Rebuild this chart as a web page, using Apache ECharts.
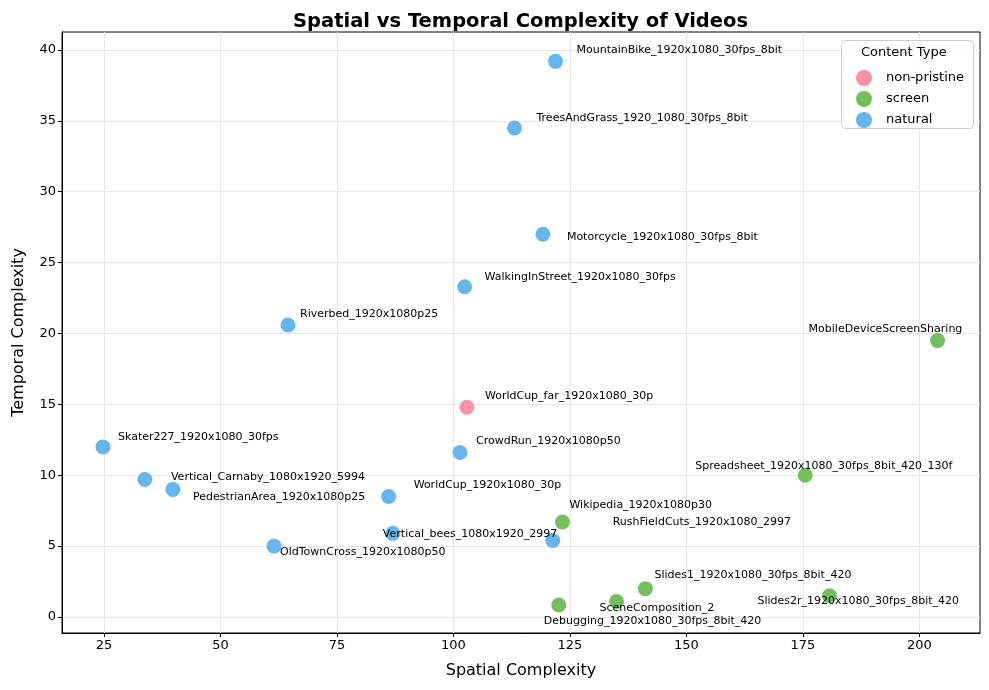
<!DOCTYPE html>
<html>
<head>
<meta charset="utf-8">
<script src="https://cdn.jsdelivr.net/npm/echarts@6/dist/echarts.min.js"></script>
<style>
  html, body { margin: 0; padding: 0; background: #fff; }
  #main { width: 989px; height: 690px; }
</style>
</head>
<body>
<div id="main"></div>
<script>
// video names, spatial / temporal complexity, content type
var names = [
  'MountainBike_1920x1080_30fps_8bit', 'TreesAndGrass_1920_1080_30fps_8bit',
  'Motorcycle_1920x1080_30fps_8bit', 'WalkingInStreet_1920x1080_30fps',
  'Riverbed_1920x1080p25', 'WorldCup_far_1920x1080_30p',
  'MobileDeviceScreenSharing', 'Skater227_1920x1080_30fps',
  'CrowdRun_1920x1080p50', 'Vertical_Carnaby_1080x1920_5994',
  'PedestrianArea_1920x1080p25', 'WorldCup_1920x1080_30p',
  'Spreadsheet_1920x1080_30fps_8bit_420_130f', 'Wikipedia_1920x1080p30',
  'Vertical_bees_1080x1920_2997', 'RushFieldCuts_1920x1080_2997',
  'OldTownCross_1920x1080p50', 'Slides1_1920x1080_30fps_8bit_420',
  'Slides2r_1920x1080_30fps_8bit_420', 'SceneComposition_2',
  'Debugging_1920x1080_30fps_8bit_420'
];
var spatial = [121.9, 113.1, 119.2, 102.4, 64.5, 102.9, 203.9, 24.8, 101.4, 33.8,
  39.8, 86.1, 175.5, 123.4, 87.0, 121.3, 61.5, 141.2, 180.7, 135.0, 122.6];
var temporal = [39.2, 34.5, 27.0, 23.3, 20.6, 14.8, 19.5, 12.0, 11.6, 9.7,
  9.0, 8.5, 10.0, 6.7, 5.9, 5.4, 5.0, 2.0, 1.5, 1.1, 0.85];
var types = ['natural', 'natural', 'natural', 'natural', 'natural', 'non-pristine',
  'screen', 'natural', 'natural', 'natural', 'natural', 'natural', 'screen', 'screen',
  'natural', 'natural', 'natural', 'screen', 'screen', 'screen', 'screen'];
var typeOrder = ['non-pristine', 'screen', 'natural'];
var xTicks = [25, 50, 75, 100, 125, 150, 175, 200];
var yTicks = [0, 5, 10, 15, 20, 25, 30, 35, 40];

// label placement (pixel offsets from point centre)
var labelOffsets = [
  [21, -11], [22, -10], [24, 3], [20, -10], [12, -11], [18, -11],
  [-129, -11], [15, -10], [16, -11], [26, -2], [20, 8], [25, -11],
  [-110, -9], [7, -17], [-10, 1], [60, -18], [6, 6], [9, -13],
  [-72, 5], [-17, 7], [-15, 16]
];
var colors = { 'non-pristine': '#f891a2', 'screen': '#74bf5c', 'natural': '#66b5ef' };

var chart = echarts.init(document.getElementById('main'));

var series = typeOrder.map(function (t) {
  var data = [];
  for (var i = 0; i < names.length; i++) {
    if (types[i] !== t) continue;
    data.push({
      value: [spatial[i], temporal[i], names[i]],
      label: { offset: labelOffsets[i] }
    });
  }
  return {
    name: t,
    type: 'scatter',
    symbolSize: 15,
    itemStyle: { color: colors[t], opacity: 1 },
    label: {
      show: true,
      position: 'inside',
      align: 'left',
      verticalAlign: 'middle',
      fontFamily: 'DejaVu Sans',
      fontSize: 11,
      color: '#000',
      textBorderWidth: 0,
      formatter: function (p) { return p.value[2]; }
    },
    emphasis: { disabled: true },
    data: data
  };
});

var font = 'DejaVu Sans';
var option = {
  animation: false,
  textStyle: { fontFamily: font },
  title: {
    text: 'Spatial vs Temporal Complexity of Videos',
    left: 288,
    top: 7,
    textStyle: { fontFamily: font, fontSize: 19.5, fontWeight: 'bold', color: '#000' }
  },
  grid: {
    left: 62, right: 9, top: 32, bottom: 57,
    show: true, borderColor: '#000', borderWidth: 1, backgroundColor: 'transparent'
  },
  graphic: [
    {
      type: 'rect', left: 841, top: 40, z: 3,
      shape: { width: 132, height: 88, r: 4 },
      style: { fill: 'rgba(255,255,255,0.85)', stroke: '#cccccc', lineWidth: 1 }
    },
    {
      type: 'text', left: 861, top: 46, z: 4,
      style: { text: 'Content Type', fontFamily: font, fontSize: 13, fill: '#000' }
    }
  ],
  legend: {
    orient: 'vertical',
    left: 851,
    top: 65,
    z: 5,
    itemWidth: 16,
    itemHeight: 16,
    itemGap: 5,
    icon: 'circle',
    data: typeOrder,
    textStyle: { fontFamily: font, fontSize: 13, color: '#000', padding: [0, 0, 0, 9] }
  },
  xAxis: {
    type: 'value',
    min: 16, max: 213,
    name: 'Spatial Complexity',
    nameLocation: 'middle',
    nameGap: 30,
    nameTextStyle: { fontFamily: font, fontSize: 16, color: '#000' },
    axisLine: { show: true, onZero: false, lineStyle: { color: '#000' } },
    axisTick: { show: true, customValues: xTicks, length: 4, lineStyle: { color: '#000' } },
    axisLabel: { customValues: xTicks, fontFamily: font, fontSize: 13, color: '#000', margin: 6 },
    splitLine: { show: true, lineStyle: { color: '#e6e6e6' } }
  },
  yAxis: {
    type: 'value',
    min: -1.13, max: 41.27,
    name: 'Temporal Complexity',
    nameLocation: 'middle',
    nameGap: 35,
    nameTextStyle: { fontFamily: font, fontSize: 16, color: '#000' },
    axisLine: { show: true, onZero: false, lineStyle: { color: '#000' } },
    axisTick: { show: true, customValues: yTicks, length: 4, lineStyle: { color: '#000' } },
    axisLabel: { customValues: yTicks, fontFamily: font, fontSize: 13, color: '#000', margin: 6 },
    splitLine: { show: true, lineStyle: { color: '#e6e6e6' } }
  },
  series: series
};

chart.setOption(option);
</script>
</body>
</html>
